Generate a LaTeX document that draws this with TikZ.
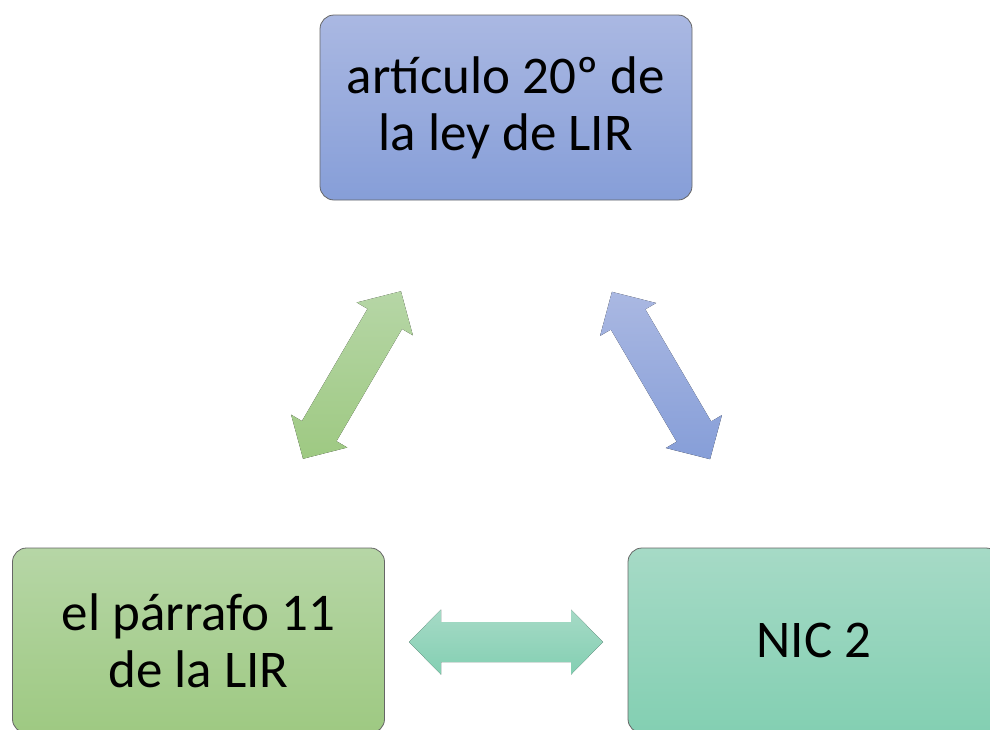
\documentclass[tikz,border=0pt]{standalone}
\usepackage{fontspec}
\setmainfont{Carlito}
\definecolor{azulA}{RGB}{170,184,226}
\definecolor{azulB}{RGB}{134,158,216}
\definecolor{verdeA}{RGB}{182,214,166}
\definecolor{verdeB}{RGB}{158,201,130}
\definecolor{turqA}{RGB}{166,218,198}
\definecolor{turqB}{RGB}{131,207,178}
\newcommand\flechadoble[3]{%
	\begin{scope}[shift={#1}, rotate=#2]
	\fill[#3] (-97,0) -- (-65,32.5) -- (-65,20) -- (65,20) -- (65,32.5) -- (97,0)
		-- (65,-32.5) -- (65,-20) -- (-65,-20) -- (-65,-32.5) -- cycle;
	\end{scope}}
\begin{document}
\begin{tikzpicture}[x=1pt, y=-1pt, line join=round,
	caja/.style={rectangle, rounded corners=14pt, draw=black!60, line width=0.8pt,
		minimum width=372pt, minimum height=185pt, align=center,
		font=\fontsize{53}{57}\selectfont}]
	\useasboundingbox (0,0) rectangle (990,729);
	\clip (0,0) rectangle (990,729);
	\node[caja, top color=azulA, bottom color=azulB] (art) at (506,107.5) {art\'iculo 20º de\\la ley de LIR};
	\node[caja, top color=verdeA, bottom color=verdeB] (parr) at (198.5,640.5) {el p\'arrafo 11\\de la LIR};
	\node[caja, top color=turqA, bottom color=turqB] (nic) at (814,640.5) {NIC 2};
	\flechadoble{(352,375)}{59.7}{top color=verdeA, bottom color=verdeB}
	\flechadoble{(661,375.5)}{120.4}{top color=azulA, bottom color=azulB}
	\flechadoble{(506,642)}{0}{top color=turqA, bottom color=turqB}
\end{tikzpicture}
\end{document}
